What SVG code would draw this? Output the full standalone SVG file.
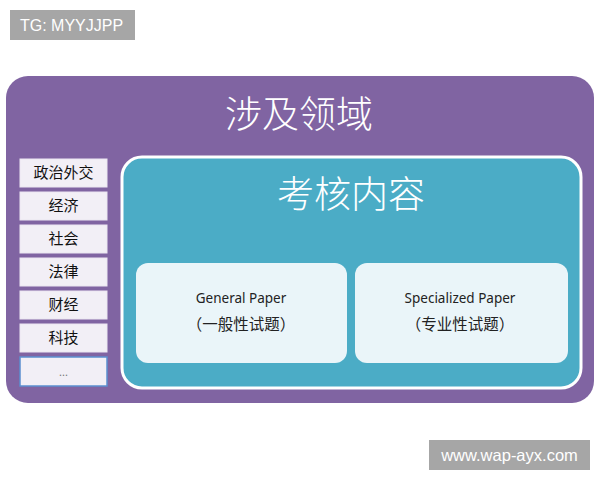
<svg xmlns="http://www.w3.org/2000/svg" width="600" height="480" viewBox="0 0 600 480">
<style>
.cjk{font-family:"Noto Sans CJK SC","Liberation Sans",sans-serif;}
.wm{fill:#a6a6a6;}
.wmt{font-family:"Liberation Sans",Arial,sans-serif;font-size:16px;fill:#ffffff;}
.item{fill:#f2eff6;stroke:#ebe6f1;stroke-width:1;}
.itemt{font-size:15px;fill:#111111;text-anchor:middle;}
.title{font-size:37px;fill:#ffffff;text-anchor:middle;font-weight:300;}
.paper{fill:#eaf5f9;}
.pen{font-family:"Noto Sans","Liberation Sans",sans-serif;font-size:13.5px;fill:#222222;text-anchor:middle;}
.pcn{font-size:15.5px;fill:#222222;text-anchor:middle;}
</style>
<rect width="600" height="480" fill="#ffffff"/>
<g id="watermark-top">
<rect class="wm" x="10" y="10" width="125" height="30"/>
<text class="wmt" x="20" y="31">TG: MYYJJPP</text>
</g>
<g id="domains">
<rect x="6" y="76" width="588" height="327" rx="22" fill="#8064a2"/>
<text class="cjk title" x="299" y="128">涉及领域</text>
</g>
<g id="items">
<g id="item1"><rect class="item" x="20" y="159" width="87" height="28"/><text class="cjk itemt" x="63.5" y="178">政治外交</text></g>
<g id="item2"><rect class="item" x="20" y="192" width="87" height="28"/><text class="cjk itemt" x="63.5" y="211">经济</text></g>
<g id="item3"><rect class="item" x="20" y="225" width="87" height="28"/><text class="cjk itemt" x="63.5" y="244">社会</text></g>
<g id="item4"><rect class="item" x="20" y="258" width="87" height="28"/><text class="cjk itemt" x="63.5" y="277">法律</text></g>
<g id="item5"><rect class="item" x="20" y="291" width="87" height="28"/><text class="cjk itemt" x="63.5" y="310">财经</text></g>
<g id="item6"><rect class="item" x="20" y="324" width="87" height="28"/><text class="cjk itemt" x="63.5" y="343">科技</text></g>
<g id="item7"><rect class="item" x="20" y="357" width="87" height="29" style="stroke:#5b8fd0;stroke-width:1.5"/><text class="pen" x="63.5" y="376" style="fill:#777777;font-size:11px">...</text></g>
</g>
<g id="assessment">
<rect x="122" y="157" width="459" height="231" rx="20" fill="#4bacc6" stroke="#ffffff" stroke-width="3"/>
<text class="cjk title" x="351" y="208">考核内容</text>
</g>
<g id="general">
<rect class="paper" x="136" y="263" width="211" height="100" rx="12"/>
<text class="pen" x="241" y="303">General Paper</text>
<text class="cjk pcn" x="241" y="330">（一般性试题）</text>
</g>
<g id="specialized">
<rect class="paper" x="355" y="263" width="213" height="100" rx="12"/>
<text class="pen" x="460" y="303">Specialized Paper</text>
<text class="cjk pcn" x="460" y="330">（专业性试题）</text>
</g>
<g id="connectors"></g>
<g id="watermark-bottom">
<rect class="wm" x="429" y="440" width="161" height="30"/>
<text class="wmt" x="509.5" y="461" text-anchor="middle" style="font-size:16.5px">www.wap-ayx.com</text>
</g>
</svg>
